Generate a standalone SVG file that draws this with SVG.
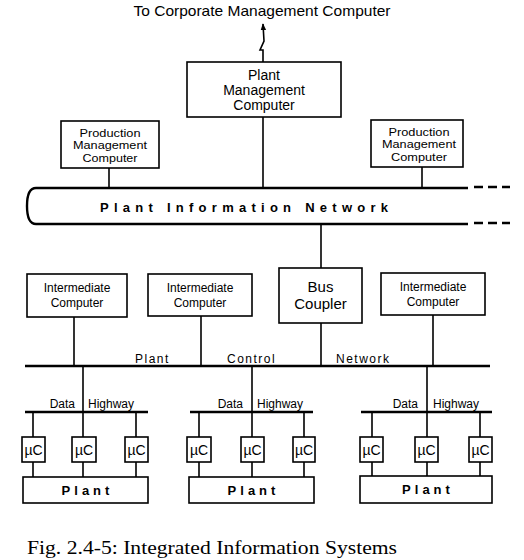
<svg xmlns="http://www.w3.org/2000/svg" width="524" height="560" viewBox="0 0 524 560">
<style>
  .bx{fill:#fff;stroke:#000;stroke-width:1.6}
  .ln{stroke:#000;stroke-width:1.6;fill:none}
  .bus{stroke:#000;stroke-width:2.4;fill:none}
  .t{font-family:"Liberation Sans",Arial,sans-serif;fill:#000;text-anchor:middle}
  .s11{font-size:11px}
  .s12{font-size:12px}
  .s14{font-size:14px}
  .uc{font-size:14px}
  .pl{font-size:13px;font-weight:bold;letter-spacing:4px}
  .dh{font-family:"Liberation Sans",Arial,sans-serif;font-size:12px;fill:#000}
</style>
<defs>
  <marker id="ah" viewBox="0 0 10 10" refX="9" refY="5" markerWidth="7" markerHeight="7" orient="auto" markerUnits="userSpaceOnUse">
    <path d="M0,1 L10,5 L0,9 Z" fill="#000"/>
  </marker>
</defs>
<rect width="524" height="560" fill="#fff"/>

<text class="t" x="262" y="16" textLength="257" lengthAdjust="spacingAndGlyphs" font-size="15">To Corporate Management Computer</text>

<g id="connectors">
  <path class="ln" d="M263,62 L263,50 L260,50 L264,41 L263,24" marker-end="url(#ah)"/>
  <line class="ln" x1="109" y1="168" x2="109" y2="188"/>
  <line class="ln" x1="263" y1="117" x2="263" y2="188"/>
  <line class="ln" x1="422" y1="167" x2="422" y2="188"/>
  <line class="ln" x1="321" y1="224" x2="321" y2="268"/>
  <line class="ln" x1="74" y1="317" x2="74" y2="366"/>
  <line class="ln" x1="201" y1="316" x2="201" y2="366"/>
  <line class="ln" x1="321" y1="323" x2="321" y2="366"/>
  <line class="ln" x1="433" y1="315" x2="433" y2="366"/>
  <line class="bus" x1="25" y1="366" x2="490" y2="366"/>
  <line class="ln" x1="83" y1="366" x2="83" y2="412"/>
  <line class="ln" x1="252" y1="366" x2="252" y2="412"/>
  <line class="ln" x1="427" y1="366" x2="427" y2="412"/>
  <line class="bus" x1="25" y1="412" x2="148" y2="412"/>
  <line class="bus" x1="190" y1="412" x2="313" y2="412"/>
  <line class="bus" x1="361" y1="412" x2="492" y2="412"/>
  <path class="ln" d="M33,412 V477 M83,412 V477 M136,412 V477"/>
  <path class="ln" d="M199,412 V477 M252,412 V477 M304,412 V477"/>
  <path class="ln" d="M372,412 V477 M427,412 V477 M480,412 V477"/>
</g>

<g id="plant-info-network">
  <path class="bus" d="M468,188 H36 C29,188 27,195 27,206 C27,217 29,224 36,224 H468"/>
  <line class="bus" x1="474" y1="187" x2="510" y2="187" stroke-dasharray="9 5"/>
  <line class="bus" x1="474" y1="223" x2="510" y2="223" stroke-dasharray="9 5"/>
  <text class="t" x="244" y="212" font-size="13" font-weight="bold" textLength="288" lengthAdjust="spacing">Plant Information Network</text>
</g>

<g id="plant-control-network">
  <text class="dh" x="135" y="363" font-size="14" letter-spacing="1.5">Plant</text>
  <text class="dh" x="227" y="363" font-size="14" letter-spacing="1.5">Control</text>
  <text class="dh" x="336" y="363" font-size="14" letter-spacing="1.5">Network</text>
</g>

<g id="plant-mgmt">
  <rect class="bx" x="187" y="62" width="154" height="55"/>
  <text class="t s14" x="264" y="80">Plant</text>
  <text class="t s14" x="264" y="95">Management</text>
  <text class="t s14" x="264" y="110">Computer</text>
</g>
<g id="prod-mgmt-1">
  <rect class="bx" x="61" y="121" width="98" height="47"/>
  <text class="t s11" x="110" y="136.5" textLength="61" lengthAdjust="spacingAndGlyphs">Production</text>
  <text class="t s11" x="110" y="149" textLength="74" lengthAdjust="spacingAndGlyphs">Management</text>
  <text class="t s11" x="110" y="161.5" textLength="55" lengthAdjust="spacingAndGlyphs">Computer</text>
</g>
<g id="prod-mgmt-2">
  <rect class="bx" x="371" y="120" width="92" height="47"/>
  <text class="t s11" x="419" y="135.5" textLength="61" lengthAdjust="spacingAndGlyphs">Production</text>
  <text class="t s11" x="419" y="148" textLength="74" lengthAdjust="spacingAndGlyphs">Management</text>
  <text class="t s11" x="419" y="160.5" textLength="56" lengthAdjust="spacingAndGlyphs">Computer</text>
</g>

<g id="inter-1">
  <rect class="bx" x="27" y="274" width="100" height="43"/>
  <text class="t s12" x="77" y="292">Intermediate</text>
  <text class="t s12" x="77" y="307">Computer</text>
</g>
<g id="inter-2">
  <rect class="bx" x="148" y="274" width="104" height="42"/>
  <text class="t s12" x="200" y="292">Intermediate</text>
  <text class="t s12" x="200" y="307">Computer</text>
</g>
<g id="bus-coupler">
  <rect class="bx" x="279" y="268" width="83" height="55"/>
  <text class="t" font-size="15" x="320.5" y="292">Bus</text>
  <text class="t" font-size="15" x="320.5" y="309">Coupler</text>
</g>
<g id="inter-3">
  <rect class="bx" x="381" y="273" width="104" height="42"/>
  <text class="t s12" x="433" y="291">Intermediate</text>
  <text class="t s12" x="433" y="306">Computer</text>
</g>

<g id="highway-1">
  <text class="dh" x="75" y="408" text-anchor="end">Data</text>
  <text class="dh" x="88" y="408">Highway</text>
  <rect class="bx" x="22" y="437" width="23" height="25"/><text class="t uc" x="33.5" y="454.5">µC</text>
  <rect class="bx" x="72" y="437" width="24" height="25"/><text class="t uc" x="84" y="454.5">µC</text>
  <rect class="bx" x="125" y="437" width="23" height="25"/><text class="t uc" x="136.5" y="454.5">µC</text>
  <rect class="bx" x="23" y="477" width="125" height="26"/><text class="t pl" x="87.5" y="495">Plant</text>
</g>
<g id="highway-2">
  <text class="dh" x="243" y="408" text-anchor="end">Data</text>
  <text class="dh" x="257" y="408">Highway</text>
  <rect class="bx" x="187" y="437" width="24" height="25"/><text class="t uc" x="199" y="454.5">µC</text>
  <rect class="bx" x="241" y="437" width="23" height="25"/><text class="t uc" x="252.5" y="454.5">µC</text>
  <rect class="bx" x="293" y="437" width="22" height="25"/><text class="t uc" x="304" y="454.5">µC</text>
  <rect class="bx" x="189" y="477" width="125" height="26"/><text class="t pl" x="253.5" y="495">Plant</text>
</g>
<g id="highway-3">
  <text class="dh" x="418" y="408" text-anchor="end">Data</text>
  <text class="dh" x="433" y="408">Highway</text>
  <rect class="bx" x="360" y="437" width="23" height="25"/><text class="t uc" x="371.5" y="454.5">µC</text>
  <rect class="bx" x="415" y="437" width="23" height="25"/><text class="t uc" x="426.5" y="454.5">µC</text>
  <rect class="bx" x="469" y="437" width="23" height="25"/><text class="t uc" x="480.5" y="454.5">µC</text>
  <rect class="bx" x="360" y="476" width="132" height="27"/><text class="t pl" x="428" y="494">Plant</text>
</g>

<text x="27" y="554" font-family="'Liberation Serif','Times New Roman',serif" font-size="18" textLength="370" lengthAdjust="spacingAndGlyphs">Fig. 2.4-5:  Integrated Information Systems</text>
</svg>
